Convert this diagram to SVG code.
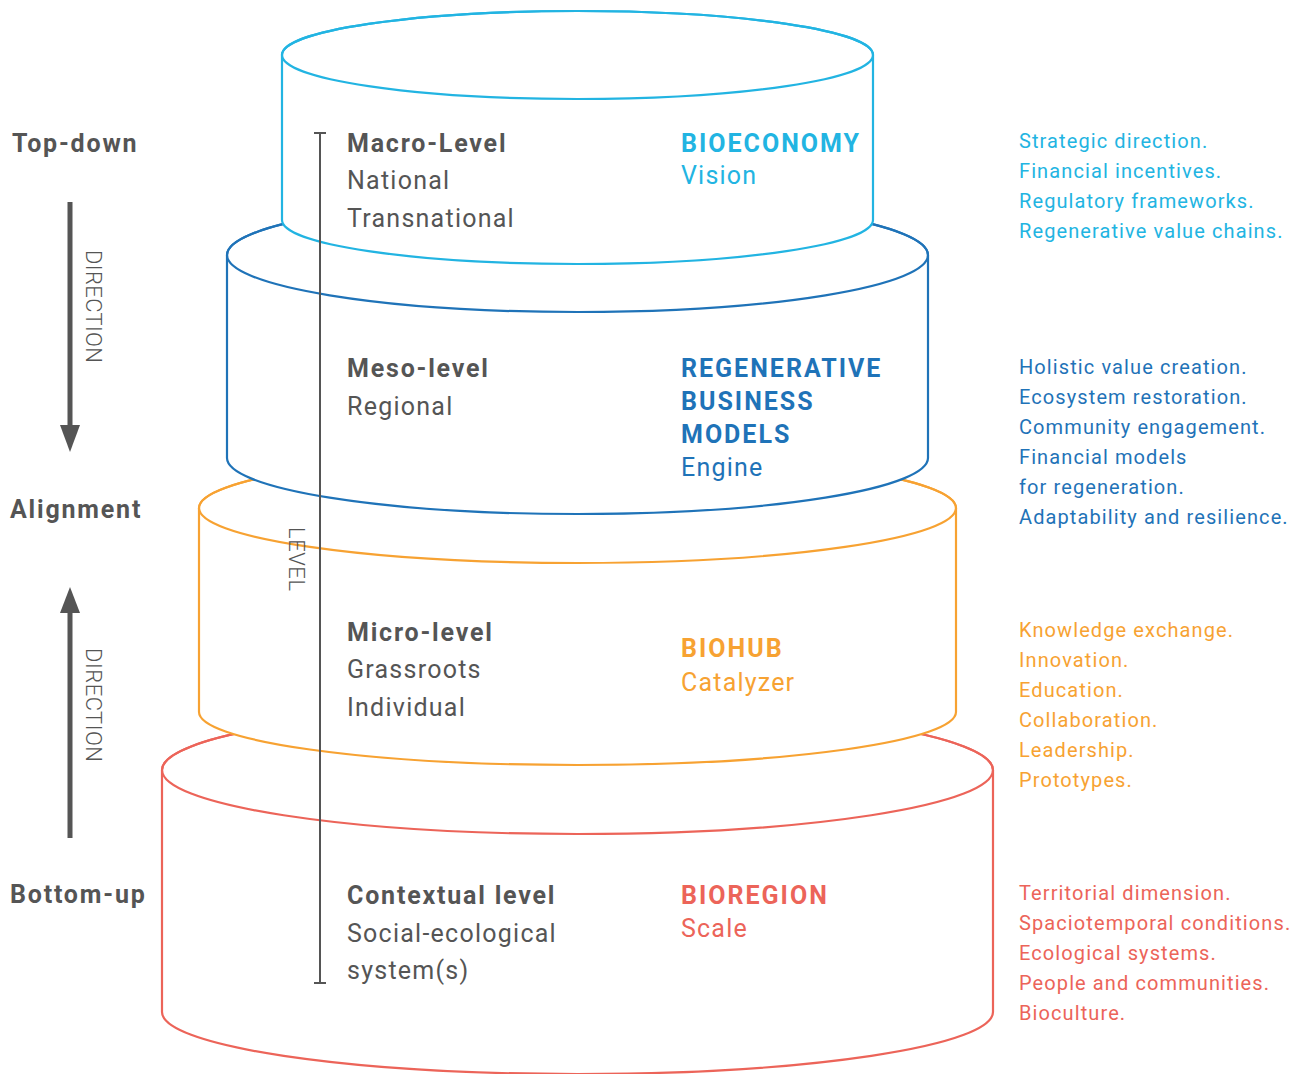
<svg xmlns="http://www.w3.org/2000/svg" width="1302" height="1074" viewBox="0 0 1302 1074">
<style>
.cyl{fill:#ffffff;stroke-width:2.2}
.cy{stroke:#22b4e2}.bl{stroke:#1f73b8}.or{stroke:#f7a232}.rd{stroke:#ec6459}
text{font-family:Roboto,"Liberation Sans",sans-serif}
.lbl{font-size:25px;font-weight:700;fill:#555555;letter-spacing:1.8px}
.hd{font-size:25px;font-weight:700;fill:#555555;letter-spacing:1.8px}
.sub{font-size:25px;font-weight:400;fill:#555555;letter-spacing:1.25px}
.cap{font-size:25px;font-weight:700;letter-spacing:2px}
.cap2{font-size:25px;font-weight:400;letter-spacing:1.2px}
.lst{font-size:20px;font-weight:400;letter-spacing:1.1px}
.vt{font-size:22px;font-weight:300;fill:#555555}
.tc{fill:#22b4e2}.tb{fill:#1f73b8}.to{fill:#f7a232}.tr{fill:#ec6459}
</style>
<rect width="1302" height="1074" fill="#ffffff"/>

<g id="cyl-bioregion">
<path class="cyl rd" d="M162,770 A415.5,64 0 0 1 993,770 L993,1012 A415.5,62 0 0 1 162,1012 Z"/>
<ellipse class="rd" cx="577.5" cy="770" rx="415.5" ry="64" fill="none" stroke-width="2.2"/>
</g>
<g id="cyl-biohub">
<path class="cyl or" d="M199,508 A378.5,55 0 0 1 956,508 L956,712 A378.5,53 0 0 1 199,712 Z"/>
<ellipse class="or" cx="577.5" cy="508" rx="378.5" ry="55" fill="none" stroke-width="2.2"/>
</g>
<g id="cyl-rbm">
<path class="cyl bl" d="M227,255 A350.5,57 0 0 1 928,255 L928,458 A350.5,56 0 0 1 227,458 Z"/>
<ellipse class="bl" cx="577.5" cy="255" rx="350.5" ry="57" fill="none" stroke-width="2.2"/>
</g>
<g id="cyl-bioeconomy">
<path class="cyl cy" d="M282,55 A295.5,44 0 0 1 873,55 L873,220 A295.5,44 0 0 1 282,220 Z"/>
<ellipse class="cy" cx="577.5" cy="55" rx="295.5" ry="44" fill="none" stroke-width="2.2"/>
</g>

<g id="connectors" stroke="#555555" fill="#555555">
<line x1="320" y1="133" x2="320" y2="983" stroke-width="2"/>
<line x1="314" y1="133" x2="326" y2="133" stroke-width="2"/>
<line x1="314" y1="983" x2="326" y2="983" stroke-width="2"/>
<line x1="70" y1="202" x2="70" y2="428" stroke-width="5"/>
<polygon points="60,425 80,425 70,452" stroke="none"/>
<line x1="70" y1="838" x2="70" y2="610" stroke-width="5"/>
<polygon points="60,613 80,613 70,587" stroke="none"/>
</g>

<g id="axis-labels">
<text class="lbl" x="12" y="152">Top-down</text>
<text class="lbl" x="10" y="518">Alignment</text>
<text class="lbl" x="10" y="903">Bottom-up</text>
<text class="vt" transform="translate(86,250) rotate(90)" textLength="113">DIRECTION</text>
<text class="vt" transform="translate(86,648) rotate(90)" textLength="114">DIRECTION</text>
<text class="vt" transform="translate(289,527) rotate(90)" textLength="64">LEVEL</text>
</g>

<g id="text-bioeconomy">
<text class="hd" x="347" y="152">Macro-Level</text>
<text class="sub" x="347" y="189">National</text>
<text class="sub" x="347" y="227">Transnational</text>
<text class="cap tc" x="681" y="152">BIOECONOMY</text>
<text class="cap2 tc" x="681" y="184">Vision</text>
<g class="lst tc">
<text x="1019" y="148">Strategic direction.</text>
<text x="1019" y="178">Financial incentives.</text>
<text x="1019" y="208">Regulatory frameworks.</text>
<text x="1019" y="238">Regenerative value chains.</text>
</g>
</g>

<g id="text-rbm">
<text class="hd" x="347" y="377">Meso-level</text>
<text class="sub" x="347" y="415">Regional</text>
<text class="cap tb" x="681" y="377">REGENERATIVE</text>
<text class="cap tb" x="681" y="410">BUSINESS</text>
<text class="cap tb" x="681" y="443">MODELS</text>
<text class="cap2 tb" x="681" y="476">Engine</text>
<g class="lst tb">
<text x="1019" y="374">Holistic value creation.</text>
<text x="1019" y="404">Ecosystem restoration.</text>
<text x="1019" y="434">Community engagement.</text>
<text x="1019" y="464">Financial models</text>
<text x="1019" y="494">for regeneration.</text>
<text x="1019" y="524">Adaptability and resilience.</text>
</g>
</g>

<g id="text-biohub">
<text class="hd" x="347" y="641">Micro-level</text>
<text class="sub" x="347" y="678">Grassroots</text>
<text class="sub" x="347" y="716">Individual</text>
<text class="cap to" x="681" y="657">BIOHUB</text>
<text class="cap2 to" x="681" y="691">Catalyzer</text>
<g class="lst to">
<text x="1019" y="637">Knowledge exchange.</text>
<text x="1019" y="667">Innovation.</text>
<text x="1019" y="697">Education.</text>
<text x="1019" y="727">Collaboration.</text>
<text x="1019" y="757">Leadership.</text>
<text x="1019" y="787">Prototypes.</text>
</g>
</g>

<g id="text-bioregion">
<text class="hd" x="347" y="904">Contextual level</text>
<text class="sub" x="347" y="942">Social-ecological</text>
<text class="sub" x="347" y="979">system(s)</text>
<text class="cap tr" x="681" y="904">BIOREGION</text>
<text class="cap2 tr" x="681" y="937">Scale</text>
<g class="lst tr">
<text x="1019" y="900">Territorial dimension.</text>
<text x="1019" y="930">Spaciotemporal conditions.</text>
<text x="1019" y="960">Ecological systems.</text>
<text x="1019" y="990">People and communities.</text>
<text x="1019" y="1020">Bioculture.</text>
</g>
</g>
</svg>
